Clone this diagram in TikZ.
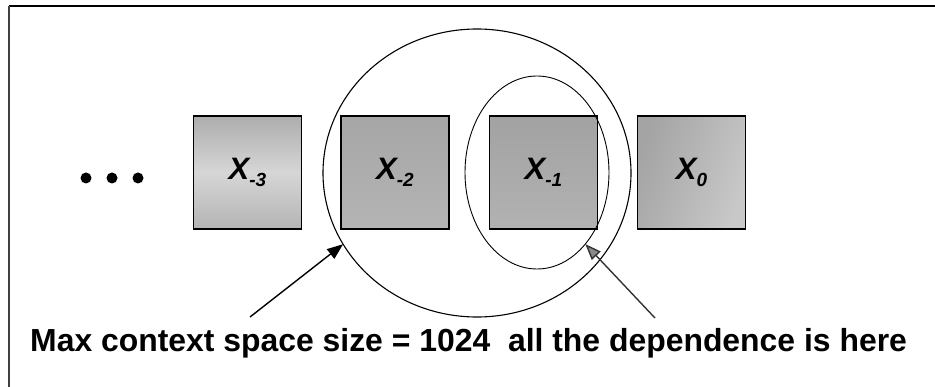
\documentclass[tikz,border=0pt]{standalone}
\usepackage{fontspec}
\setmainfont{Liberation Sans}
\usetikzlibrary{arrows.meta,shapes.geometric}
\definecolor{cellAtop}{HTML}{ADADAD}
\definecolor{cellAmid}{HTML}{D6D6D6}
\definecolor{cellAbot}{HTML}{B4B4B4}
\definecolor{cellBtop}{HTML}{A6A6A6}
\definecolor{cellBbot}{HTML}{B4B4B4}
\definecolor{cellCtop}{HTML}{A2A2A2}
\definecolor{cellCbot}{HTML}{B2B2B2}
\definecolor{cellDleft}{HTML}{A4A4A4}
\definecolor{cellDright}{HTML}{C8C8C8}
\definecolor{tipgray}{HTML}{8A8A8A}
\newcommand{\cellsub}[1]{\raisebox{-0.22em}{\fontsize{19}{19}\selectfont #1}}
\begin{document}
\begin{tikzpicture}[x=1pt,y=-1pt,
  cell/.style={draw=black, line width=1.3pt, minimum width=108pt, minimum height=113pt,
    inner sep=0pt, outer sep=0pt, font=\fontsize{31}{31}\selectfont\bfseries\itshape},
  ring/.style={ellipse, draw=black, line width=1.1pt, inner sep=0pt, outer sep=0pt},
  dotmark/.style={circle, fill=black, minimum size=11pt, inner sep=0pt},
  pointer/.style={line width=1.4pt},
  caption/.style={inner sep=0pt, anchor=base west, font=\fontsize{31.9}{31.9}\selectfont\bfseries}
]
\useasboundingbox (0,0) rectangle (935,387);
% frame
\draw[line width=2.6pt] (9,6) -- (935,6);
\draw[line width=1.4pt, black!75] (9,6) -- (9,387);
% dots
\node[dotmark] (d1) at (86,178) {};
\node[dotmark] (d2) at (112,178) {};
\node[dotmark] (d3) at (138,178) {};
% cells
\node[cell, top color=cellAtop, bottom color=cellAbot, middle color=cellAmid] (x3) at (247.5,172.5) {X\cellsub{-3}};
\node[cell, top color=cellBtop, bottom color=cellBbot] (x2) at (395,172.5) {X\cellsub{-2}};
\node[cell, top color=cellCtop, bottom color=cellCbot] (x1) at (543.5,172.5) {X\cellsub{-1}};
\node[cell, left color=cellDleft, right color=cellDright, shading angle=70] (x0) at (691.5,172.5) {X\cellsub{0}};
% ellipses
\node[ring, minimum width=308pt, minimum height=288pt] (outer) at (477,173) {};
\node[ring, line width=0.9pt, minimum width=144pt, minimum height=193pt] (inner) at (537,172.5) {};
% pointers
\coordinate (la) at (250,317);
\coordinate (ra) at (655,318);
\draw[pointer, -{Triangle[length=16pt,width=12pt]}] (la) -- (outer.208.3);
\draw[pointer, black!80, -{Triangle[length=16pt,width=12pt,fill=tipgray]}] (ra) -- (inner.304);
% caption
\node[caption] (cap) at (30,352) {Max context space size = 1024\hspace{0.278em} all the dependence is here};
\end{tikzpicture}
\end{document}
